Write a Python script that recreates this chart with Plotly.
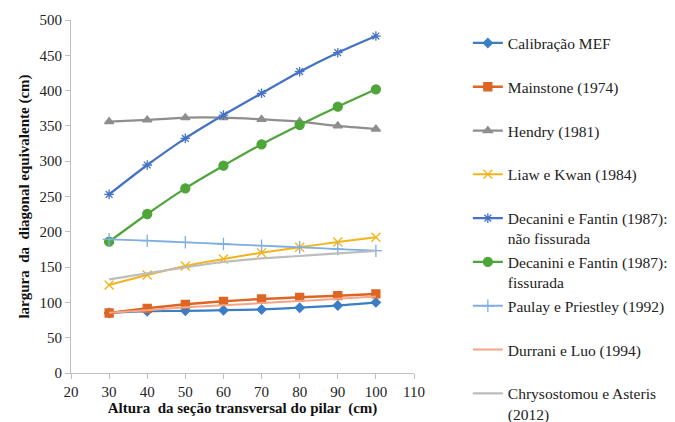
import plotly.graph_objects as go

x_vals = [30, 40, 50, 60, 70, 80, 90, 100]

mef = [85, 87.5, 88, 89, 90, 92.5, 95.5, 100]
mainstone = [85, 91.6, 97.3, 101.5, 104.8, 107.2, 109.5, 112]
hendry = [356, 358.4, 361.6, 361.6, 359.3, 356, 350, 345.6]
liaw_kwan = [124.6, 138.8, 151.6, 161.5, 170.4, 178, 185.6, 192.2]
decanini_nao = [253, 294.6, 332.4, 365.4, 396.2, 426.8, 453.7, 477.3]
decanini_fiss = [186, 225.2, 261.6, 293.6, 323.9, 351.3, 377.2, 401.8]
paulay = [189.3, 187.4, 185.1, 182.7, 180.3, 178, 175.6, 173.2]
durrani = [85.5, 89, 93, 96, 99, 102, 105, 108.5]
chrysostomou = [132.7, 141.2, 149.7, 157.2, 162.4, 165.7, 169.5, 172.8]

series_names = [
    "Calibração MEF<br> ",
    "Mainstone (1974)<br> ",
    "Hendry (1981)<br> ",
    "Liaw e Kwan (1984)<br> ",
    "Decanini e Fantin (1987):<br>não fissurada",
    "Decanini e Fantin (1987):<br>fissurada",
    "Paulay e Priestley (1992)<br> ",
    "Durrani e Luo (1994)<br> ",
    "Chrysostomou e Asteris<br>(2012)",
]
series_values = [mef, mainstone, hendry, liaw_kwan, decanini_nao, decanini_fiss,
                 paulay, durrani, chrysostomou]
colors = ["#3B7EC6", "#DE6524", "#8E8E8E", "#F2B41C", "#4472C4", "#4EA53A",
          "#7FAEE3", "#F7A586", "#BDBDBD"]
markers = ["diamond", "square", "triangle-up", "x-thin", "asterisk", "circle",
           "cross-thin", None, None]
msizes = [7, 8, 8, 9, 8, 9, 9, 0, 0]
widths = [2.2, 2.5, 2.2, 2, 2.2, 2.2, 1.8, 2, 2.2]

SERIF = "Liberation Serif"

fig = go.Figure()
for i, (nm, vals) in enumerate(zip(series_names, series_values)):
    mk = markers[i]
    if mk is None:
        mode = "lines"
        marker = dict()
    else:
        mode = "lines+markers"
        marker = dict(symbol=mk, size=msizes[i], color=colors[i],
                      line=dict(color=colors[i], width=1.3))
    fig.add_trace(go.Scatter(
        x=x_vals, y=vals, name=nm, mode=mode, marker=marker,
        line=dict(color=colors[i], width=widths[i], shape="spline", smoothing=0.6),
        legendgroup=str(i),
    ))

axis_font = dict(family=SERIF, size=15, color="#222222")
title_font = dict(family=SERIF, size=15, color="#111111")

fig.update_layout(
    width=667, height=414,
    margin=dict(l=63, r=261, t=12, b=49, autoexpand=False),
    paper_bgcolor="white", plot_bgcolor="white",
    showlegend=True,
    font=dict(family=SERIF),
    legend=dict(
        x=1.157, xanchor="left", y=0.982, yanchor="top",
        font=dict(family=SERIF, size=15.5, color="#222222"),
        tracegroupgap=0.5, valign="top", itemwidth=30,
        bgcolor="rgba(0,0,0,0)", maxheight=600,
    ),
    xaxis=dict(
        range=[20, 110], tickvals=[20, 30, 40, 50, 60, 70, 80, 90, 100, 110],
        showgrid=False, zeroline=False, showline=True, linecolor="#BFBFBF",
        linewidth=1, ticks="outside", ticklen=5, tickcolor="#BFBFBF",
        tickfont=axis_font, automargin=False,
        title=dict(text="<b>Altura  da seção transversal do pilar  (cm)</b>",
                   font=title_font, standoff=2),
    ),
    yaxis=dict(
        range=[0, 500], tickvals=list(range(0, 501, 50)),
        showgrid=False, zeroline=False, showline=True, linecolor="#BFBFBF",
        linewidth=1, ticks="outside", ticklen=5, tickcolor="#BFBFBF",
        tickfont=axis_font, automargin=False,
        title=dict(text="<b>largura  da  diagonal equivalente (cm)</b>",
                   font=title_font, standoff=6),
    ),
)

fig.write_html("out.html")
